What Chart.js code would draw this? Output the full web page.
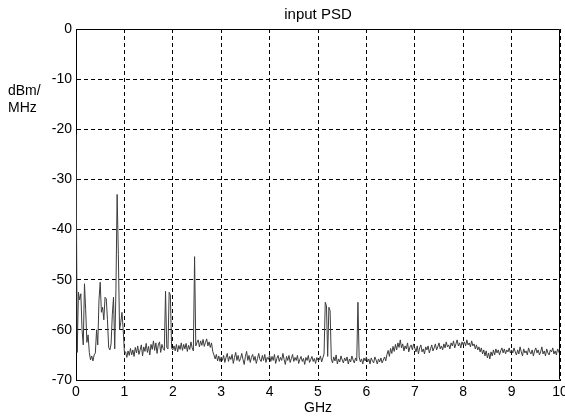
<!DOCTYPE html>
<html>
<head>
<meta charset="utf-8">
<title>input PSD</title>
<script src="https://cdn.jsdelivr.net/npm/chart.js@4/dist/chart.umd.min.js"></script>
<style>
  html, body { margin: 0; padding: 0; background: #fff; }
  #wrap { position: relative; width: 565px; height: 418px; }
  #yLabel {
    position: absolute; left: 8px; top: 82px;
    font: 14px "Liberation Sans", Arial, sans-serif; line-height: 17px; color: #000;
  }
</style>
</head>
<body>
<div id="wrap">
  <canvas id="psdChart" width="565" height="418"></canvas>
  <div id="yLabel">dBm/<br>MHz</div>
</div>
<script>
// ===============================
//  DATA
// ===============================
const stepGHz = 0.025;   // sample spacing of the PSD trace
const xTicks = [0, 1, 2, 3, 4, 5, 6, 7, 8, 9, 10];
const yTicks = [-70, -60, -50, -40, -30, -20, -10, 0];

// 0 - 1 GHz (DC spike + strong low-band signals)
const psd0to1 = [
    -21, -64.5, -52.5, -54, -52.8, -60, -63, -50.8, -56, -62.5,
    -61, -64.5, -66, -65.2, -66.2, -65, -64.6, -60, -63, -54,
    -50.5, -56.5, -55.5, -58, -53.5, -53.8, -58, -63.5, -64, -62.8,
    -57, -53.5, -63.8, -52, -33, -45, -60, -58.5, -56.5, -60,
    -64.5
];
// 1 - 2 GHz
const psd1to2 = [
    -64.4, -65.5, -64.2, -65.1, -63.7, -65.0, -64.0, -65.3, -63.5, -64.6,
    -63.2, -64.9, -64.0, -63.0, -65.2, -63.4, -64.3, -62.7, -64.5, -63.3,
    -65.0, -62.9, -63.9, -62.2, -64.1, -62.6, -64.7, -63.0, -62.4, -64.5,
    -62.9, -63.7, -64.1, -52.3, -63.5, -63.8, -52.5, -53.0, -63.6, -64.0
];
// 2 - 3 GHz
const psd2to3 = [
    -63.2, -64.2, -62.9, -64.4, -63.1, -63.9, -62.6, -64.1, -62.9, -63.8,
    -62.7, -64.3, -63.1, -63.9, -62.4, -63.6, -64.2, -45.4, -63.2, -62.5,
    -62.0, -63.4, -62.2, -63.1, -61.9, -63.3, -62.5, -61.8, -63.2, -62.4,
    -63.5, -62.6, -64.3, -65.0, -65.8, -64.9, -66.2, -65.2, -66.3, -65.4
];
// 3 - 4 GHz
const psd3to4 = [
    -66.1, -65.1, -66.5, -65.5, -64.7, -66.3, -65.3, -65.9, -64.9, -66.7,
    -65.5, -64.5, -66.1, -65.1, -66.3, -65.7, -64.7, -65.9, -66.9, -65.3,
    -64.3, -66.1, -65.1, -66.5, -65.5, -64.9, -66.1, -65.3, -66.7, -65.7,
    -64.7, -65.9, -66.3, -65.1, -66.1, -64.9, -66.5, -65.5, -65.9, -65.1
];
// 4 - 5 GHz
const psd4to5 = [
    -66.3, -65.3, -66.1, -64.9, -66.7, -65.7, -65.1, -66.3, -65.5, -66.1,
    -64.7, -65.9, -66.9, -65.3, -66.1, -65.1, -66.5, -65.7, -64.9, -66.3,
    -65.5, -66.1, -65.1, -66.7, -65.9, -65.3, -66.3, -65.7, -66.9, -65.5,
    -66.1, -65.1, -66.5, -65.9, -65.3, -66.3, -65.7, -66.7, -65.5, -66.1
];
// 5 - 6 GHz (WLAN spikes)
const psd5to6 = [
    -66.0, -65.2, -66.4, -65.6, -64.8, -54.5, -55.2, -65.3, -55.5, -56.2,
    -65.8, -66.6, -65.4, -66.2, -65.0, -66.8, -65.8, -66.4, -65.2, -66.0,
    -66.6, -65.6, -66.2, -65.4, -66.8, -65.8, -66.4, -65.2, -66.0, -66.6,
    -65.6, -66.2, -54.5, -65.4, -66.4, -65.8, -66.8, -65.6, -66.2, -65.4
];
// 6 - 7 GHz (step up near 6.4 GHz)
const psd6to7 = [
    -66.4, -65.8, -66.8, -65.6, -66.2, -66.6, -65.4, -66.0, -66.8, -65.8,
    -66.4, -65.6, -66.6, -66.0, -65.4, -66.2, -64.9, -64.1, -65.3, -63.7,
    -64.7, -63.3, -64.3, -62.9, -64.0, -62.6, -63.5, -62.0, -63.6, -62.8,
    -64.2, -63.2, -63.8, -62.6, -64.4, -63.4, -63.0, -64.0, -62.8, -63.6
];
// 7 - 8 GHz
const psd7to8 = [
    -64.4, -63.2, -64.8, -63.6, -63.0, -64.4, -63.8, -64.8, -63.4, -64.0,
    -63.2, -64.6, -63.8, -63.0, -64.2, -63.6, -62.8, -64.0, -63.4, -62.6,
    -63.8, -63.2, -64.0, -62.8, -63.6, -62.4, -63.4, -63.0, -63.8, -62.6,
    -63.2, -62.2, -63.6, -62.8, -62.0, -63.2, -62.6, -63.6, -62.4, -63.0
];
// 8 - 9 GHz
const psd8to9 = [
    -62.4, -63.2, -62.0, -63.0, -62.6, -63.4, -62.2, -63.2, -62.8, -63.8,
    -63.0, -64.0, -63.4, -64.4, -63.6, -64.8, -64.0, -65.2, -64.2, -65.6,
    -64.6, -65.8, -64.4, -65.2, -64.0, -65.0, -63.8, -64.6, -64.0, -65.0,
    -64.2, -63.6, -64.6, -63.8, -64.8, -64.0, -64.4, -63.6, -64.6, -64.0
];
// 9 - 10 GHz
const psd9to10 = [
    -64.6, -63.6, -64.4, -65.0, -64.0, -64.8, -63.4, -64.4, -65.2, -63.8,
    -64.6, -64.2, -65.0, -63.6, -64.4, -64.8, -64.0, -65.2, -64.2, -63.6,
    -64.6, -64.0, -65.0, -64.4, -63.4, -64.8, -64.2, -65.2, -63.8, -64.6,
    -65.0, -64.0, -64.4, -63.6, -64.8, -64.2, -65.0, -63.8, -64.4, -64.8
];

const psdDbm = [].concat(psd0to1, psd1to2, psd2to3, psd3to4, psd4to5,
                         psd5to6, psd6to7, psd7to8, psd8to9, psd9to10);

// ===============================
//  CHART
// ===============================
const FONT = '"Liberation Sans", Arial, sans-serif';

// solid box on the top / right edges (MATLAB style frame)
const frameBox = {
    id: 'frameBox',
    afterDatasetsDraw(chart) {
        const { ctx, chartArea } = chart;
        const l = Math.round(chartArea.left) + 0.5;
        const t = Math.round(chartArea.top) + 0.5;
        const r = Math.round(chartArea.right) - 0.5;
        const b = Math.round(chartArea.bottom) - 0.5;
        ctx.save();
        ctx.strokeStyle = '#000';
        ctx.lineWidth = 1;
        ctx.beginPath();
        ctx.moveTo(l, t);
        ctx.lineTo(r, t);
        ctx.lineTo(r, b);
        ctx.stroke();
        ctx.restore();
    }
};

function initChart() {
    const ctx = document.getElementById('psdChart');
    new Chart(ctx, {
        type: 'line',
        data: {
            datasets: [{
                label: 'input PSD',
                data: psdDbm.map((v, i) => ({ x: i * stepGHz, y: v })),
                borderColor: '#3c3c3c',
                borderWidth: 1,
                pointRadius: 0,
                tension: 0,
                fill: false
            }]
        },
        plugins: [frameBox],
        options: {
            responsive: false,
            animation: false,
            devicePixelRatio: 1,
            layout: { padding: { left: 0, right: 5, top: 0, bottom: 0 } },
            plugins: {
                legend: { display: false },
                tooltip: { enabled: false },
                title: {
                    display: true,
                    text: 'input PSD',
                    fullSize: false,
                    color: '#000',
                    font: { family: FONT, size: 15, weight: 'normal' },
                    padding: { top: 6, bottom: 5 }
                }
            },
            scales: {
                x: {
                    type: 'linear',
                    min: xTicks[0],
                    max: xTicks[xTicks.length - 1],
                    afterBuildTicks: (scale) => { scale.ticks = xTicks.map(v => ({ value: v })); },
                    afterFit: (scale) => {
                        scale.height = 38;
                        scale.paddingLeft = 0;
                        scale.paddingRight = 0;
                    },
                    ticks: {
                        color: '#000',
                        font: { family: FONT, size: 14 },
                        padding: 4,
                        maxRotation: 0,
                        autoSkip: false
                    },
                    grid: { color: '#000', lineWidth: 1, drawTicks: false },
                    border: { display: true, color: '#000', width: 1, dash: [4, 3] },
                    title: {
                        display: true,
                        text: 'GHz',
                        color: '#000',
                        font: { family: FONT, size: 14 },
                        padding: { top: 0, bottom: 1 }
                    }
                },
                y: {
                    min: yTicks[0],
                    max: yTicks[yTicks.length - 1],
                    afterBuildTicks: (scale) => { scale.ticks = yTicks.map(v => ({ value: v })); },
                    afterFit: (scale) => {
                        scale.width = 76;
                        scale.paddingTop = 0;
                        scale.paddingBottom = 0;
                    },
                    ticks: {
                        color: '#000',
                        font: { family: FONT, size: 14 },
                        padding: 4
                    },
                    grid: { color: '#000', lineWidth: 1, drawTicks: false },
                    border: { display: true, color: '#000', width: 1, dash: [4, 3] }
                }
            }
        }
    });
}

document.addEventListener('DOMContentLoaded', initChart);
</script>
</body>
</html>
